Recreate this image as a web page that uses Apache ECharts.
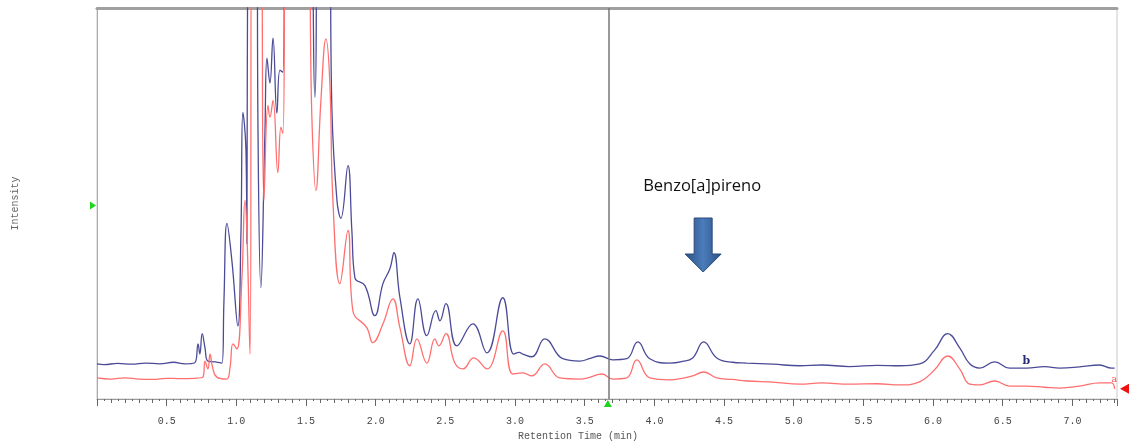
<!DOCTYPE html>
<html>
    <head>
        <meta charset="utf-8">
        <style>
            body { margin: 0; background: #fff; }
        </style>
    </head>
    <body>
        <div id="main" style="width:1129px;height:441px"></div>
        <script src="https://cdn.jsdelivr.net/npm/echarts@6/dist/echarts.min.js"></script>
        <script type="text/javascript">
            // trace b (blue), retention time in min / intensity (0-100 = full scale, >100 is off scale)
            var timeB = [0.00, 0.05, 0.15, 0.25, 0.35, 0.45, 0.55, 0.63, 0.70, 0.725, 0.738, 0.755, 0.775, 0.796, 0.85, 0.897, 0.911, 0.933, 0.968, 1.011,
                1.033, 1.047, 1.069, 1.076, 1.083, 1.148, 1.155, 1.176, 1.205, 1.220, 1.241, 1.263, 1.291, 1.313, 1.334, 1.356, 1.514, 1.564, 1.593, 1.664,
                1.686, 1.722, 1.750, 1.801, 1.829, 1.851, 1.923, 1.994, 2.052, 2.102, 2.131, 2.174, 2.245, 2.303, 2.367, 2.432, 2.461, 2.504, 2.583, 2.697,
                2.798, 2.912, 2.991, 3.030, 3.056, 3.120, 3.214, 3.343, 3.465, 3.540, 3.608, 3.702, 3.802, 3.881, 3.967, 4.110, 4.200, 4.275, 4.354, 4.448,
                4.560, 4.663, 4.850, 5.043, 5.200, 5.40, 5.60, 5.76, 5.904, 6.011, 6.105, 6.191, 6.263, 6.334, 6.442, 6.549, 6.671, 6.800, 6.908, 7.052,
                7.195, 7.281, 7.303]
            var intensityB = [9.0, 8.8, 9.1, 8.9, 9.2, 9.0, 9.4, 9.0, 9.2, 14.1, 11.5, 16.7, 13.1, 9.7, 9.5, 9.2, 25.1, 44.9, 35.4, 18.7,
                42.3, 73.3, 63.6, 39.7, 130, 130, 70.5, 28.5, 67.9, 87.2, 80.8, 92.3, 73.1, 84.1, 83.6, 130, 130, 77.2, 130, 130,
                73.8, 50.8, 46.2, 59.7, 43.1, 31.0, 29.0, 21.3, 29.5, 33.3, 37.4, 25.9, 14.1, 25.6, 16.2, 22.6, 20.0, 24.4, 13.6, 19.2,
                11.8, 25.9, 11.5, 11.9, 11.5, 10.8, 15.4, 10.3, 9.7, 10.4, 11.0, 10.0, 10.3, 14.6, 10.3, 9.2, 9.6, 10.5, 14.6, 10.5,
                9.4, 9.2, 8.9, 8.5, 8.7, 8.3, 8.6, 8.5, 9.0, 12.5, 16.7, 13.1, 9.0, 7.9, 9.5, 7.9, 7.9, 8.3, 7.9, 8.2,
                8.7, 7.9, 7.9]

            // trace a (red)
            var timeA = [0.00, 0.10, 0.20, 0.30, 0.40, 0.50, 0.60, 0.70, 0.76, 0.775, 0.796, 0.811, 0.83, 0.86, 0.93, 0.954, 0.976, 1.004, 1.040, 1.062,
                1.076, 1.098, 1.112, 1.169, 1.198, 1.227, 1.241, 1.263, 1.298, 1.320, 1.334, 1.363, 1.506, 1.542, 1.571, 1.607, 1.643, 1.671, 1.693, 1.743,
                1.801, 1.836, 1.937, 1.980, 2.052, 2.123, 2.174, 2.245, 2.296, 2.367, 2.425, 2.453, 2.504, 2.568, 2.626, 2.704, 2.798, 2.912, 2.984, 3.056,
                3.120, 3.214, 3.321, 3.465, 3.540, 3.623, 3.702, 3.802, 3.874, 3.967, 4.110, 4.200, 4.275, 4.354, 4.448, 4.560, 4.663, 4.850, 5.043, 5.200,
                5.40, 5.60, 5.76, 5.904, 6.011, 6.105, 6.191, 6.263, 6.334, 6.442, 6.549, 6.671, 6.800, 6.908, 7.052, 7.195, 7.281, 7.303]
            var intensityA = [5.4, 5.1, 5.4, 5.1, 5.0, 5.3, 5.2, 5.3, 5.6, 9.7, 7.7, 11.5, 8.0, 5.6, 5.1, 7.9, 14.1, 12.8, 31.0, 50.8,
                42.3, 11.5, 130, 130, 50.8, 75.1, 72.1, 76.4, 57.9, 69.5, 67.9, 130, 130, 72.1, 53.3, 76.4, 92.1, 80.8, 50.8, 29.5,
                43.1, 22.6, 18.2, 14.4, 19.2, 25.6, 18.2, 8.5, 15.4, 9.2, 15.4, 13.6, 16.7, 9.2, 7.7, 10.5, 7.7, 17.4, 6.4, 6.7,
                5.9, 9.0, 5.4, 5.1, 5.6, 6.4, 5.1, 5.4, 10.0, 5.4, 4.9, 5.3, 5.9, 6.9, 5.4, 5.0, 4.6, 4.3, 3.8, 4.1,
                3.8, 3.9, 3.6, 4.4, 7.5, 11.0, 7.7, 3.8, 3.6, 4.6, 3.3, 3.3, 3.0, 2.8, 3.3, 4.1, 4.1, 2.6]

            var timeMax = 7.32
            var cursorTime = 3.666
            var benzoTime = 4.35
            var leftMarkerLevel = 49.5

            function pairs(t, v) {
                return t.map(function (x, i) { return [x, v[i]] })
            }

            var mono = 'Liberation Mono'
            var chart = echarts.init(document.getElementById('main'))
            var option = {
                animation: false,
                grid: { left: 97, right: 12, top: 8, bottom: 42, outerBoundsMode: 'none', show: true, borderColor: '#c8c8c8', borderWidth: 1 },
                xAxis: [{
                    type: 'value', min: 0, max: timeMax, interval: 0.5, position: 'bottom',
                    axisLine: { lineStyle: { color: '#999' } },
                    axisTick: { length: 7, lineStyle: { color: '#666' } },
                    minorTick: { show: true, splitNumber: 10, length: 2, lineStyle: { color: '#666' } },
                    axisLabel: {
                        formatter: function (v) { return v.toFixed(1) },
                        showMinLabel: false, showMaxLabel: false, margin: 17,
                        fontFamily: mono, fontSize: 10, color: '#444'
                    },
                    splitLine: { show: false }
                }, {
                    type: 'value', min: 0, max: timeMax, interval: 0.1, position: 'bottom',
                    axisLine: { show: false },
                    axisTick: { length: 4, lineStyle: { color: '#666' } },
                    axisLabel: { show: false },
                    splitLine: { show: false }
                }, {
                    type: 'value', min: 0, max: timeMax, position: 'top',
                    axisLine: { lineStyle: { color: '#a0a0a0', width: 3 } },
                    axisTick: { show: false },
                    axisLabel: { show: false },
                    splitLine: { show: false }
                }],
                yAxis: {
                    type: 'value', min: 0, max: 100,
                    axisLine: { show: true, lineStyle: { color: '#aaa' } },
                    axisTick: { show: false },
                    axisLabel: { show: false },
                    splitLine: { show: false },
                    name: 'Intensity', nameLocation: 'middle', nameGap: 77, nameRotate: 90,
                    nameTextStyle: { fontFamily: mono, fontSize: 10, color: '#666' }
                },
                series: [{
                    name: 'b', type: 'line', data: pairs(timeB, intensityB),
                    showSymbol: false, smooth: 0.45, clip: true,
                    lineStyle: { color: '#4b4b98', width: 1.3 },
                    markLine: {
                        silent: true, symbol: 'none', label: { show: false },
                        lineStyle: { color: '#777', width: 1.5, type: 'solid' },
                        data: [{ xAxis: cursorTime }]
                    },
                    markPoint: {
                        symbol: 'circle', symbolSize: 0,
                        label: { show: true, formatter: 'b', color: '#2a2a7a', fontFamily: 'DejaVu Serif', fontWeight: 'bold', fontSize: 11, offset: [0, -6] },
                        data: [{ coord: [6.67, 8.2] }]
                    }
                }, {
                    name: 'a', type: 'line', data: pairs(timeA, intensityA),
                    showSymbol: false, smooth: 0.45, clip: true,
                    lineStyle: { color: '#ff6f6f', width: 1.3 },
                    markPoint: {
                        symbol: 'circle', symbolSize: 0,
                        label: { show: true, formatter: 'a', color: '#ff5555', fontFamily: 'DejaVu Serif', fontSize: 10, offset: [0, -6] },
                        data: [{ coord: [7.30, 3.4] }]
                    }
                }]
            }
            chart.setOption(option)

            // cursor / level markers and the annotation, placed from data coords
            var cur = chart.convertToPixel({ gridIndex: 0 }, [cursorTime, 0])
            var lvl = chart.convertToPixel({ gridIndex: 0 }, [0, leftMarkerLevel])
            var endA = chart.convertToPixel({ gridIndex: 0 }, [timeMax, intensityA[intensityA.length - 1]])
            var bz = chart.convertToPixel({ gridIndex: 0 }, [benzoTime, 0])
            var ax = bz[0]
            chart.setOption({
                graphic: [
                    { type: 'polygon', shape: { points: [[cur[0] - 4, cur[1] + 8], [cur[0] + 4, cur[1] + 8], [cur[0], cur[1] + 1]] }, style: { fill: '#1fd51f' } },
                    { type: 'polygon', shape: { points: [[lvl[0] - 7, lvl[1] - 4], [lvl[0] - 7, lvl[1] + 4], [lvl[0] - 1, lvl[1]]] }, style: { fill: '#1fd51f' } },
                    { type: 'polygon', shape: { points: [[endA[0] + 12, endA[1] - 5], [endA[0] + 12, endA[1] + 5], [endA[0] + 3, endA[1]]] }, style: { fill: '#ee1111' } },
                    {
                        type: 'polygon',
                        shape: { points: [[ax - 9, 218], [ax + 9, 218], [ax + 9, 254], [ax + 18, 254], [ax, 272], [ax - 18, 254], [ax - 9, 254]] },
                        style: {
                            fill: new echarts.graphic.LinearGradient(0, 0, 1, 0, [
                                { offset: 0, color: '#2d5183' }, { offset: 0.5, color: '#4a7cbb' }, { offset: 1, color: '#2d5183' }
                            ]),
                            stroke: '#2a4a7a', lineWidth: 1
                        }
                    },
                    { type: 'text', x: ax - 1, y: 186, style: { text: 'Benzo[a]pireno', font: '16.5px "Open Sans"', fill: '#111', align: 'center', verticalAlign: 'middle' } },
                    { type: 'text', x: 578, y: 436, style: { text: 'Retention Time (min)', font: '10px "Liberation Mono"', fill: '#555', align: 'center', verticalAlign: 'middle' } }
                ]
            })
        </script>
    </body>
</html>
